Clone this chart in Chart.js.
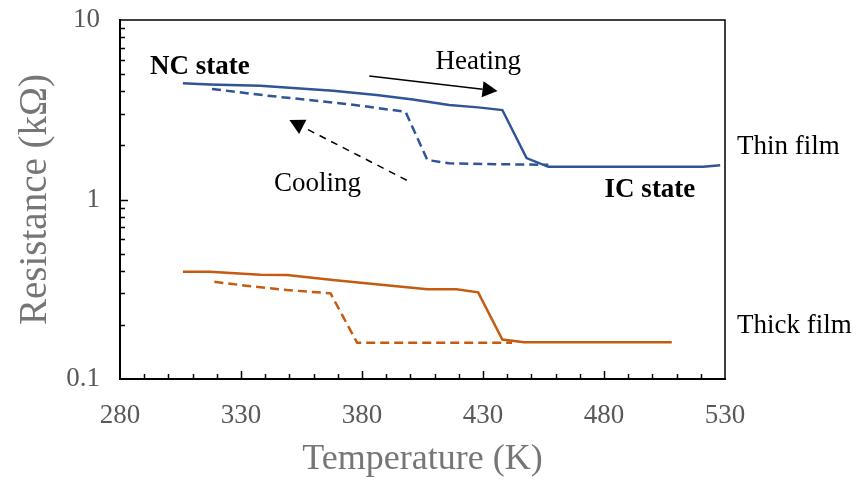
<!DOCTYPE html>
<html lang="en">
<head>
  <meta charset="UTF-8" />
  <title>Resistance vs Temperature</title>
  <script src="https://cdn.jsdelivr.net/npm/chart.js"></script>
  <style>
    html, body { margin: 0; padding: 0; background: #fff; }
    #wrap { width: 860px; height: 481px; }
  </style>
</head>
<body>
  <div id="wrap"><canvas id="rt"></canvas></div>
  <script>
    // values (T in K, R in kOhm)
    const thinHeatT = [306, 317, 338, 368, 386, 401, 416, 428, 438, 448, 457, 480, 500, 521, 528];
    const thinHeatR = [4.44, 4.37, 4.30, 4.04, 3.82, 3.61, 3.36, 3.26, 3.15, 1.70, 1.52, 1.52, 1.52, 1.52, 1.55];
    const thinCoolT = [318, 340, 375, 398, 407, 416, 440, 457];
    const thinCoolR = [4.13, 3.80, 3.39, 3.08, 1.66, 1.59, 1.57, 1.56];
    const thickHeatT = [306, 317, 338, 349, 368, 389, 407, 419, 428, 438, 447, 508];
    const thickHeatR = [0.396, 0.396, 0.381, 0.380, 0.356, 0.334, 0.316, 0.316, 0.304, 0.166, 0.160, 0.160];
    const thickCoolT = [319, 332, 349, 367, 378, 442];
    const thickCoolR = [0.348, 0.331, 0.313, 0.300, 0.159, 0.159];
    const yTicks = [0.1, 1, 10];

    const blue = '#2f5597';
    const orange = '#c55a11';
    const serif = '"Liberation Serif", "Times New Roman", serif';

    function pts(xs, ys) { return xs.map((x, i) => ({ x: x, y: ys[i] })); }

    // text labels and arrows, in data coords
    const labels = [
      { text: 'NC state', x: 292.4, y: 5.47, bold: true, align: 'left' },
      { text: 'Heating', x: 428, y: 5.84, align: 'center' },
      { text: 'Cooling', x: 361.6, y: 1.22, align: 'center' },
      { text: 'IC state', x: 499, y: 1.13, bold: true, align: 'center' }
    ];
    const sideLabels = [
      { text: 'Thin film', y: 1.96 },
      { text: 'Thick film', y: 0.197 }
    ];
    const arrows = [
      { from: [383, 4.87], to: [436, 4.02], dash: [] },
      { from: [398.5, 1.28], to: [350, 2.77], dash: [7, 6] }
    ];

    const decor = {
      id: 'decor',
      afterDraw(chart) {
        const c = chart.ctx, a = chart.chartArea;
        const xs = chart.scales.x, ys = chart.scales.y;
        c.save();
        // frame top/right
        c.strokeStyle = '#000';
        c.lineWidth = 1.5;
        c.beginPath();
        c.moveTo(a.left, a.top); c.lineTo(a.right, a.top); c.lineTo(a.right, a.bottom);
        c.stroke();
        // inward ticks
        c.beginPath();
        for (let t = 290; t < 530; t += 10) {
          const px = Math.round(xs.getPixelForValue(t)) + 0.5;
          const len = (t - 280) % 50 === 0 ? 8 : 5;
          c.moveTo(px, a.bottom); c.lineTo(px, a.bottom - len);
        }
        [0.1, 1].forEach(d => {
          for (let k = 2; k <= 9; k++) {
            const py = Math.round(ys.getPixelForValue(d * k)) + 0.5;
            c.moveTo(a.left, py); c.lineTo(a.left + 5, py);
          }
        });
        const py1 = Math.round(ys.getPixelForValue(1)) + 0.5;
        c.moveTo(a.left, py1); c.lineTo(a.left + 8, py1);
        c.stroke();
        // arrows
        c.fillStyle = '#000';
        arrows.forEach(ar => {
          const x1 = xs.getPixelForValue(ar.from[0]), y1 = ys.getPixelForValue(ar.from[1]);
          const x2 = xs.getPixelForValue(ar.to[0]), y2 = ys.getPixelForValue(ar.to[1]);
          const ang = Math.atan2(y2 - y1, x2 - x1);
          const hl = 15, hw = 8;
          const bx = x2 - hl * Math.cos(ang), by = y2 - hl * Math.sin(ang);
          c.setLineDash(ar.dash);
          c.lineWidth = 1.5;
          c.beginPath(); c.moveTo(x1, y1); c.lineTo(bx, by); c.stroke();
          c.setLineDash([]);
          c.beginPath();
          c.moveTo(x2, y2);
          c.lineTo(bx + hw * Math.sin(ang), by - hw * Math.cos(ang));
          c.lineTo(bx - hw * Math.sin(ang), by + hw * Math.cos(ang));
          c.closePath(); c.fill();
        });
        // text
        c.textBaseline = 'middle';
        labels.forEach(l => {
          c.font = (l.bold ? 'bold ' : '') + '27px ' + serif;
          c.textAlign = l.align;
          c.fillText(l.text, xs.getPixelForValue(l.x), ys.getPixelForValue(l.y));
        });
        c.font = '27px ' + serif;
        c.textAlign = 'left';
        sideLabels.forEach(l => {
          c.fillText(l.text, a.right + 12, ys.getPixelForValue(l.y));
        });
        c.restore();
      }
    };

    function line(data, color, dash) {
      return {
        data: data, borderColor: color, backgroundColor: color,
        borderWidth: 2.5, borderDash: dash, pointRadius: 0, fill: false, tension: 0
      };
    }

    new Chart(document.getElementById('rt'), {
      type: 'line',
      data: {
        datasets: [
          line(pts(thinHeatT, thinHeatR), blue, []),
          line(pts(thinCoolT, thinCoolR), blue, [9, 5]),
          line(pts(thickHeatT, thickHeatR), orange, []),
          line(pts(thickCoolT, thickCoolR), orange, [9, 5])
        ]
      },
      options: {
        responsive: true,
        maintainAspectRatio: false,
        animation: false,
        layout: { padding: { top: 20, right: 135, left: 0, bottom: 0 } },
        plugins: { legend: { display: false }, tooltip: { enabled: false } },
        scales: {
          x: {
            type: 'linear', min: 280, max: 530,
            grid: { display: false, drawTicks: false },
            border: { display: true, color: '#000', width: 2 },
            ticks: {
              stepSize: 50, padding: 21, color: '#595959',
              font: { family: serif, size: 27 }
            },
            title: {
              display: true, text: 'Temperature (K)', color: '#767676',
              font: { family: serif, size: 36 }, padding: { top: 0, bottom: 0 }
            },
            afterFit(s) { s.height = 102; s.paddingLeft = 0; s.paddingRight = 0; }
          },
          y: {
            type: 'logarithmic', min: 0.1, max: 10,
            grid: { display: false, drawTicks: false },
            border: { display: true, color: '#000', width: 2 },
            afterBuildTicks(s) { s.ticks = yTicks.map(v => ({ value: v })); },
            ticks: {
              padding: 20, color: '#595959',
              font: { family: serif, size: 27 },
              callback: v => String(v)
            },
            title: {
              display: true, text: 'Resistance (kΩ)', color: '#767676',
              font: { family: serif, size: 39 }, padding: { top: 12, bottom: 0 }
            },
            afterFit(s) { s.width = 120; s.paddingTop = 0; s.paddingBottom = 0; }
          }
        }
      },
      plugins: [decor]
    });
  </script>
</body>
</html>
